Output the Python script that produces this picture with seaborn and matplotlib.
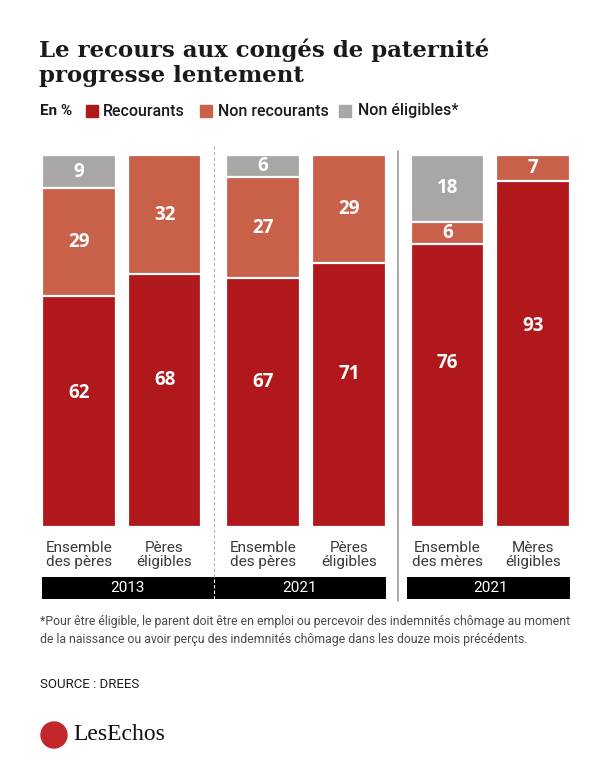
import numpy as np
import pandas as pd
import matplotlib.pyplot as plt
import seaborn as sns
from matplotlib.patches import Rectangle, Ellipse

# data (en %)
categories = ['Ensemble\ndes pères', 'Pères\néligibles',
              'Ensemble\ndes pères', 'Pères\néligibles',
              'Ensemble\ndes mères', 'Mères\néligibles']
recourants = [62, 68, 67, 71, 76, 93]
non_recourants = [29, 32, 27, 29, 6, 7]
non_eligibles = [9, 0, 6, 0, 18, 0]
years = ['2013', '2021', '2021']

RED = '#B0181B'
ORANGE = '#C8604A'
GREY = '#A9A6A6'

positions = [0, 1, 2.15, 3.15, 4.3, 5.3]
df = pd.DataFrame({'pos': positions, 'cat': categories,
                   'rec': recourants, 'non': non_recourants, 'ne': non_eligibles})
df['rec_non'] = df['rec'] + df['non']
df['total'] = df['rec_non'] + df['ne']

sns.set_theme(style='white')
plt.rcParams['font.family'] = ['Roboto', 'DejaVu Sans']

W, H = 609, 760
fig = plt.figure(figsize=(W / 100, H / 100), dpi=100)
fig.patch.set_facecolor('white')


def fx(x):
    return x / W


def fy(y):
    return 1 - y / H


ax = fig.add_axes([fx(42), fy(527), (570 - 42) / W, (527 - 155) / H])

bw = 0.86
for col, c in [('total', GREY), ('rec_non', ORANGE), ('rec', RED)]:
    sns.barplot(data=df, x='pos', y=col, native_scale=True, color=c, saturation=1,
                width=bw, edgecolor='white', linewidth=1.6, errorbar=None, ax=ax)

ax.set_xlim(-0.43, 5.73)
ax.set_ylim(0, 100)
ax.set_axis_off()

# value labels
lab = dict(color='white', fontsize=13.5, fontweight='bold', ha='center', va='center',
           family=['Open Sans', 'DejaVu Sans'])
for _, r in df.iterrows():
    ax.text(r['pos'], r['rec'] * 0.58, f"{r['rec']}", **lab)
    if r['non'] > 0:
        ax.text(r['pos'], r['rec'] + r['non'] / 2, f"{r['non']}", **lab)
    if r['ne'] > 0:
        ax.text(r['pos'], r['rec_non'] + r['ne'] / 2, f"{r['ne']}", **lab)
    ax.text(r['pos'], -3.8, r['cat'], ha='center', va='top', fontsize=11,
            color='#3a3a3a', linespacing=1.0, clip_on=False)

# year bands
sep1 = (positions[1] + positions[2]) / 2
sep2 = (positions[3] + positions[4]) / 2
y0, y1 = -19.4, -13.4
ax.add_patch(Rectangle((positions[0] - bw / 2, y0), positions[3] + bw / 2 - positions[0] + bw / 2,
                       y1 - y0, color='black', clip_on=False, lw=0))
ax.add_patch(Rectangle((positions[4] - bw / 2 - 0.04, y0), positions[5] - positions[4] + bw + 0.04,
                       y1 - y0, color='black', clip_on=False, lw=0))
ax.plot([sep1, sep1], [y0, y1], color='white', lw=0.8, ls=(0, (3, 2)), clip_on=False)
ax.plot([sep1, sep1], [y1, 102.7], color='#b5b5b5', lw=0.8, ls=(0, (3, 2)), clip_on=False)
ax.plot([sep2, sep2], [y0 - 0.5, 101], color='#9a9a9a', lw=1.2, clip_on=False)

yr_x = [(positions[0] - bw / 2 + sep1) / 2, (sep1 + positions[3] + bw / 2) / 2,
        (positions[4] + positions[5]) / 2]
for x, t in zip(yr_x, years):
    ax.text(x, (y0 + y1) / 2, t, color='white', fontsize=11, ha='center', va='center',
            clip_on=False)

# title
for yy, t in [(50, 'Le recours aux congés de paternité'), (76, 'progresse lentement')]:
    fig.text(fx(39), fy(yy), t, fontsize=16.5, fontweight='bold',
             family=['DejaVu Serif'], color='#1a1a1a', va='center')

# legend
fig.text(fx(40), fy(111), 'En %', fontsize=11, fontweight='bold', color='#1a1a1a', va='center')
for sx, tx, c, t in [(86, 103, RED, 'Recourants'), (200, 218, ORANGE, 'Non recourants'),
                     (339, 358, GREY, 'Non éligibles*')]:
    fig.patches.append(Rectangle((fx(sx), fy(117)), 12 / W, 12 / H, color=c,
                                 transform=fig.transFigure, figure=fig))
    fig.text(fx(tx), fy(111), t, fontsize=11.5, fontweight='medium', color='#1a1a1a', va='center')

# footnote and source
fig.text(fx(40), fy(622), '*Pour être éligible, le parent doit être en emploi ou percevoir des '
         'indemnités chômage au moment', fontsize=8.8, color='#4a4a4a', va='center')
fig.text(fx(40), fy(639), 'de la naissance ou avoir perçu des indemnités chômage dans les douze '
         'mois précédents.', fontsize=8.8, color='#4a4a4a', va='center')
fig.text(fx(40), fy(685), 'SOURCE : DREES', fontsize=9.5, color='#1a1a1a', va='center')

# logo
fig.patches.append(Ellipse((fx(54), fy(735)), 26 / W, 26 / H, color='#C3272B',
                           transform=fig.transFigure, figure=fig))
fig.text(fx(73), fy(735), 'LesEchos', fontsize=17, family=['Liberation Serif'],
         color='#111111', va='center')

fig.savefig('out.png', dpi=100, facecolor='white')
